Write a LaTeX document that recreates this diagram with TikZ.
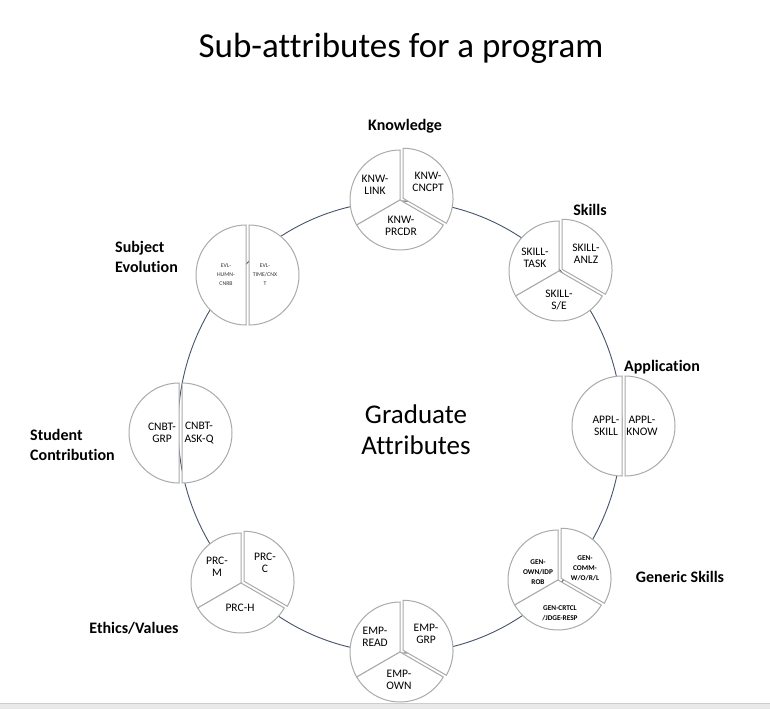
\documentclass[tikz,border=0pt]{standalone}
\usepackage{fontspec}
\setmainfont{Carlito}[Ligatures={NoCommon,NoContextual}]
\usetikzlibrary{calc}
\definecolor{ringc}{RGB}{68,84,106}
\definecolor{pieg}{RGB}{170,170,170}
\definecolor{barg}{RGB}{233,233,233}
\definecolor{barl}{RGB}{205,205,205}
\newcommand\pieThree[1]{%
  \draw[seg] (#1) -- ++(90:50) arc[start angle=90,end angle=210,radius=50] -- cycle;
  \draw[seg] (#1) -- ++(210:50) arc[start angle=210,end angle=330,radius=50] -- cycle;
  \draw[seg] ($(#1)+(30:3.5)$) -- ++(-30:50) arc[start angle=-30,end angle=90,radius=50] -- cycle;}
\newcommand\pieTwo[1]{%
  \draw[seg] (#1) -- ++(90:50) arc[start angle=90,end angle=270,radius=50] -- cycle;
  \draw[seg] ($(#1)+(3,0)$) -- ++(-90:50) arc[start angle=-90,end angle=90,radius=50] -- cycle;}
\begin{document}
\begin{tikzpicture}[x=1pt,y=1pt,
  seg/.style={draw=pieg,fill=white,line width=1pt},
  pt/.style={font=\fontsize{11.5}{12.5}\selectfont,align=center,inner sep=0pt},
  ptg/.style={font=\bfseries\fontsize{7.3}{10}\selectfont,align=center,inner sep=0pt},
  pts/.style={font=\fontsize{5.8}{9}\selectfont,align=center,inner sep=0pt,text=black!80},
  lab/.style={font=\bfseries\fontsize{16}{20}\selectfont,inner sep=0pt}]
\useasboundingbox (0,0) rectangle (770,-709);
\fill[white] (0,0) rectangle (770,-709);
\fill[barg] (0,-703) rectangle (770,-709);
\draw[barl,line width=0.8pt] (0,-703) -- (770,-703);

% title
\node[anchor=base,inner sep=0pt,font=\fontsize{35}{40}\selectfont] (title) at (401,-57) {Sub-attributes for a program};

% ring
\draw[ringc,line width=0.9pt] (400,-427) ellipse [x radius=222, y radius=226];

% centres
\coordinate (kn) at (400,-200);
\coordinate (sk) at (559,-271);
\coordinate (ap) at (622,-426);
\coordinate (ge) at (558,-580);
\coordinate (em) at (400,-652);
\coordinate (et) at (241,-583);
\coordinate (st) at (179,-433);
\coordinate (su) at (246,-275);

\pieThree{kn}
\pieThree{sk}
\pieTwo{ap}
\pieThree{ge}
\pieThree{em}
\pieThree{et}
\pieTwo{st}
\pieTwo{su}

% pie texts
\node[pt] (kn1) at ($(kn)+(-25,15)$) {KNW-\\LINK};
\node[pt] (kn2) at ($(kn)+(28,18)$) {KNW-\\CNCPT};
\node[pt] (kn3) at ($(kn)+(1,-26)$) {KNW-\\PRCDR};

\node[pt] (sk1) at ($(sk)+(-24,13)$) {SKILL-\\TASK};
\node[pt] (sk2) at ($(sk)+(27,17)$) {SKILL-\\ANLZ};
\node[pt] (sk3) at ($(sk)+(0,-29)$) {SKILL-\\S/E};

\node[pt] (ap1) at ($(ap)+(-16,0)$) {APPL-\\SKILL};
\node[pt] (ap2) at ($(ap)+(20,0)$) {APPL-\\KNOW};

\node[ptg] (ge1) at ($(ge)+(-20,8)$) {GEN-\\OWN/IDP\\ROB};
\node[ptg] (ge2) at ($(ge)+(27,12)$) {GEN-\\COMM-\\W/O/R/L};
\node[ptg] (ge3) at ($(ge)+(2,-33)$) {GEN-CRTCL\\/JDGE-RESP};

\node[pt] (em1) at ($(em)+(-25,15)$) {EMP-\\READ};
\node[pt] (em2) at ($(em)+(26,18)$) {EMP-\\GRP};
\node[pt] (em3) at ($(em)+(-1,-28)$) {EMP-\\OWN};

\node[pt] (et1) at ($(et)+(-24,16)$) {PRC-\\M};
\node[pt] (et2) at ($(et)+(24,20)$) {PRC-\\C};
\node[pt] (et3) at ($(et)+(-1,-25)$) {PRC-H};

\node[pt] (st1) at ($(st)+(-17,0)$) {CNBT-\\GRP};
\node[pt] (st2) at ($(st)+(20,0)$) {CNBT-\\ASK-Q};

\node[pts] (su1) at ($(su)+(-20,0)$) {EVL-\\HUMN-\\CNRB};
\node[pts] (su2) at ($(su)+(19,0)$) {EVL-\\TIME/CNX\\T};

% centre
\node[align=center,inner sep=0pt,font=\fontsize{27}{31}\selectfont] (ga) at (416,-430) {Graduate\\Attributes};

% category labels
\node[lab] (lkn) at (405,-126) {Knowledge};
\node[lab] (lsk) at (590,-210) {Skills};
\node[lab] (lap) at (662,-367) {Application};
\node[lab] (lge) at (680,-577) {Generic Skills};
\node[lab] (let) at (134,-628) {Ethics/Values};
\node[lab,anchor=west,align=left] (lst) at (30,-445) {Student\\Contribution};
\node[lab,anchor=west,align=left] (lsu) at (115,-257) {Subject\\Evolution};
\end{tikzpicture}
\end{document}
